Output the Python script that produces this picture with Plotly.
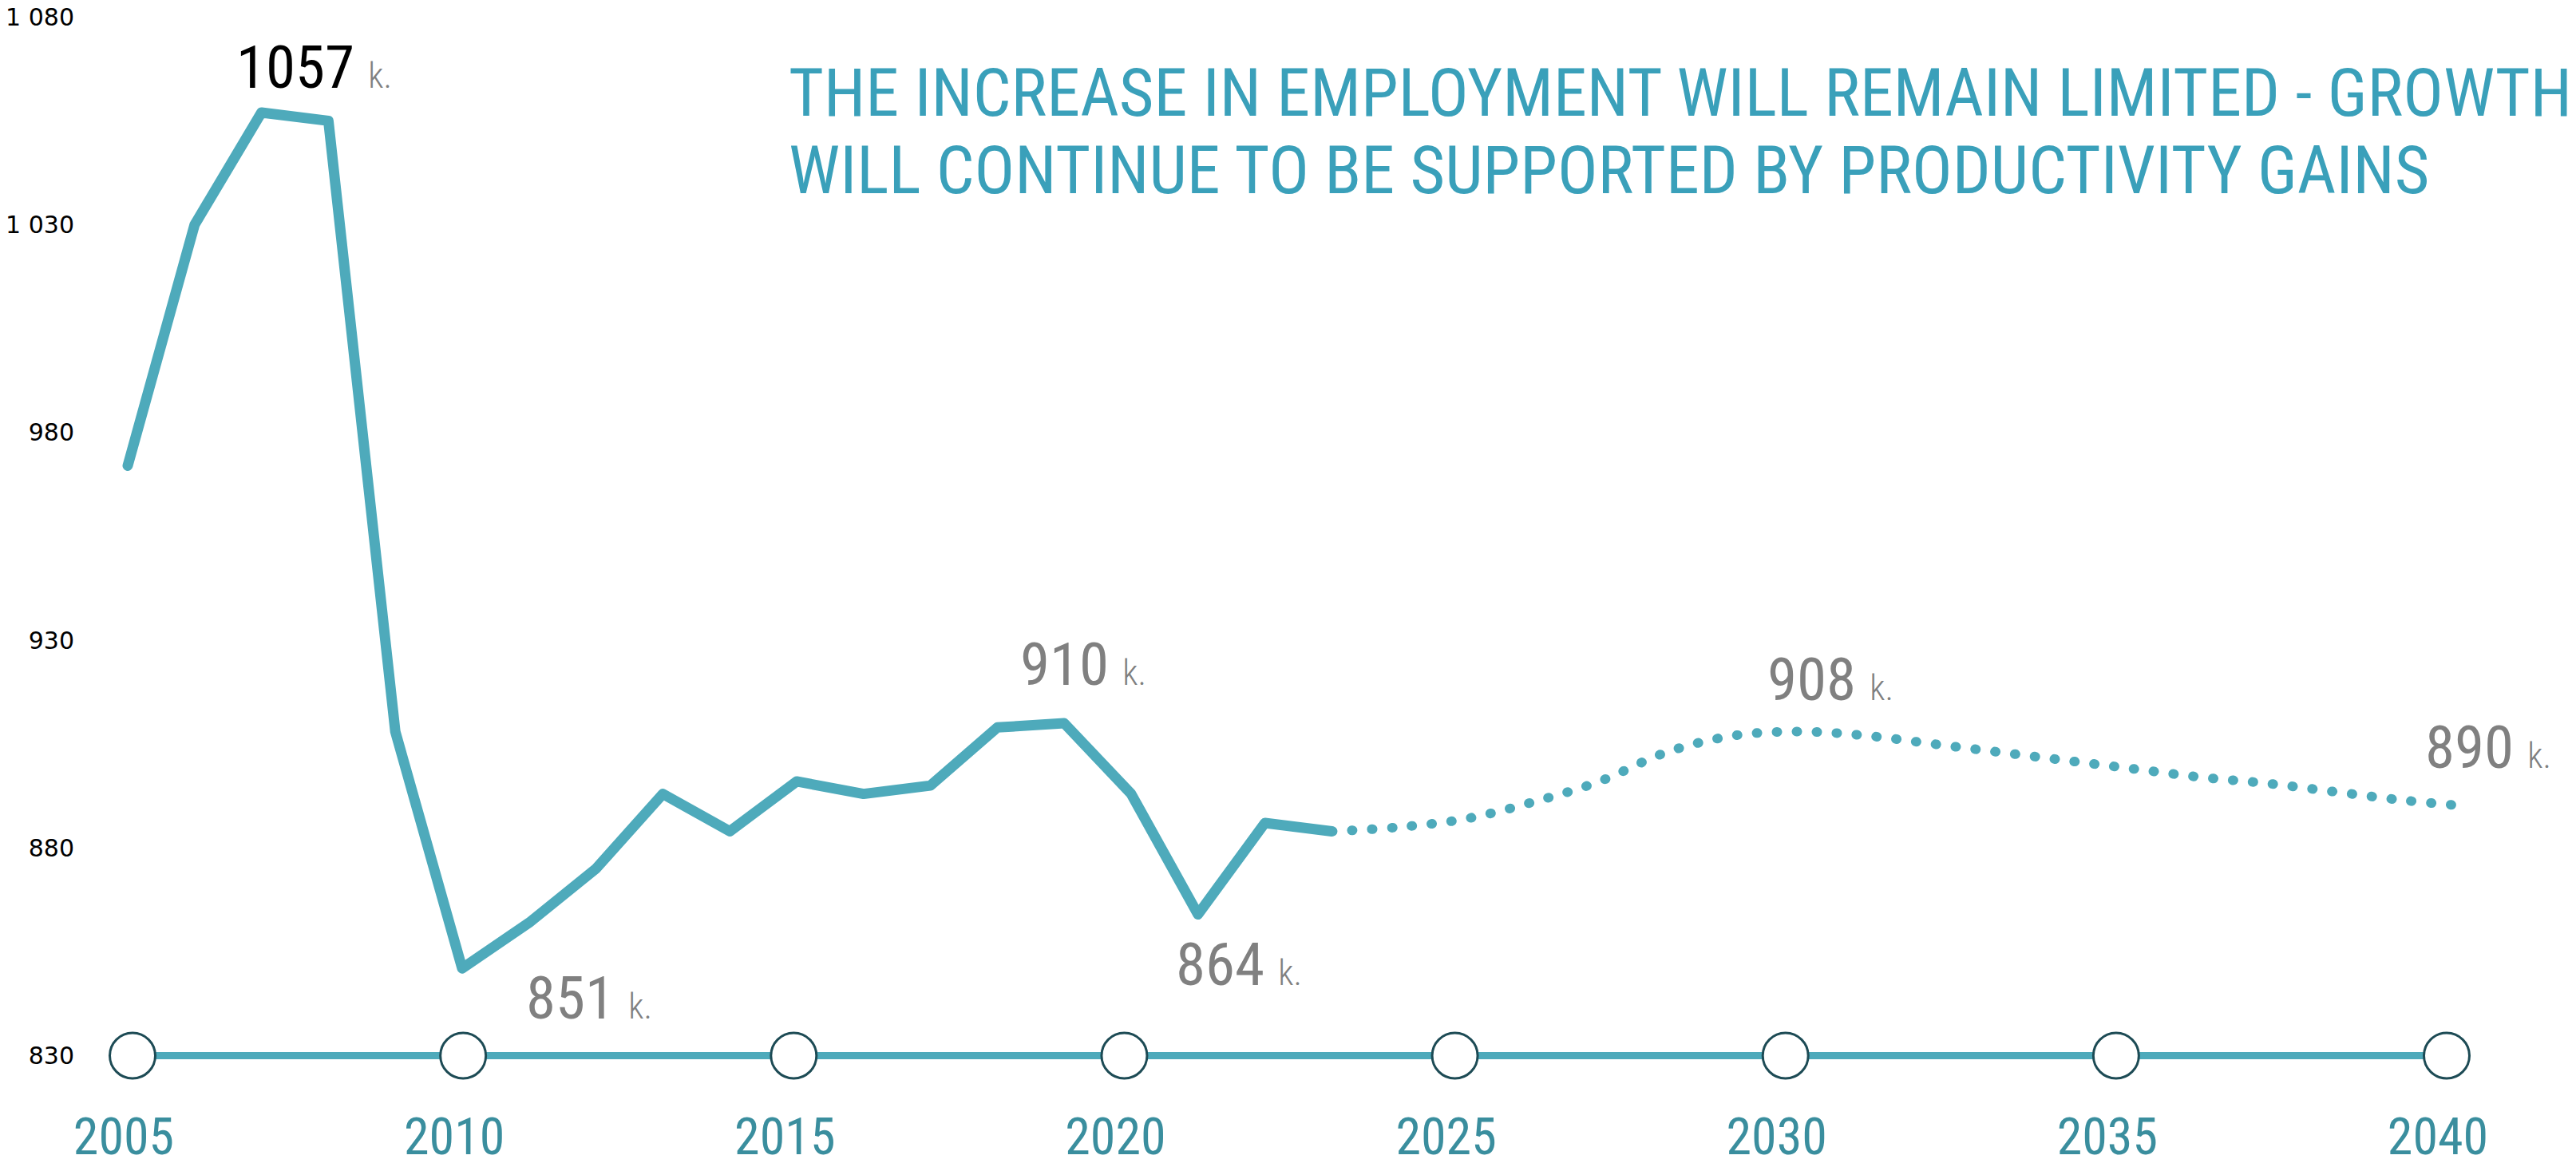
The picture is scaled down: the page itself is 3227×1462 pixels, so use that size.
import plotly.graph_objects as go

# ---------------- data ----------------
years = list(range(2005, 2024))
employment = [972, 1030, 1057, 1055, 908, 851, 862, 875, 893, 884,
              896, 893, 895, 909, 910, 893, 864, 886, 884]
proj_years = list(range(2023, 2041))
projection = [884, 885, 887, 891, 896, 903, 907, 908, 907, 905,
              903, 901, 899, 897, 895.5, 893.5, 891.5, 890]
axis_years = [2005, 2010, 2015, 2020, 2025, 2030, 2035, 2040]
axis_base = 830
y_ticks = [830, 880, 930, 980, 1030, 1080]
label_years = [2007, 2010, 2019, 2021, 2030, 2040]
label_values = [1057, 851, 910, 864, 908, 890]
title_lines = ["THE INCREASE IN EMPLOYMENT WILL REMAIN LIMITED - GROWTH",
               "WILL CONTINUE TO BE SUPPORTED BY PRODUCTIVITY GAINS"]

# ---------------- style ----------------
W, H = 3227, 1462
ML, MR, MT, MB = 100, 27, 0, 82
PW, PH = W - ML - MR, H - MT - MB
LINE = "#4eaabb"
TITLE_C = "#3aa0ba"
YEAR_C = "#3a8e9e"
GRAY = "#808080"
NARROW = "Roboto Condensed, DejaVu Sans Condensed, sans-serif"
NORMAL = "DejaVu Sans, Verdana, sans-serif"

fig = go.Figure()

# baseline axis with circles
fig.add_trace(go.Scatter(
    x=axis_years, y=[axis_base] * len(axis_years), xaxis="x2", yaxis="y",
    mode="lines+markers", cliponaxis=False, hoverinfo="skip",
    line=dict(color=LINE, width=9),
    marker=dict(size=57, color="white", line=dict(color="#1d4b55", width=3)),
))

# projection (dotted)
fig.add_trace(go.Scatter(
    x=proj_years, y=projection, mode="lines", hoverinfo="skip",
    line=dict(color=LINE, width=12, dash="1px,24px", shape="spline", smoothing=1),
))

# historical (solid)
fig.add_trace(go.Scatter(
    x=years, y=employment, mode="lines", hoverinfo="skip",
    line=dict(color=LINE, width=13),
))

# value labels
offsets = [(66, 57), (159, -37), (24, 74), (51, -62), (38, 66), (24, 74)]
annotations = []
for i, (yr, val) in enumerate(zip(label_years, label_values)):
    num_color = "black" if i == 0 else GRAY
    dx, dy = offsets[i]
    annotations.append(dict(
        x=yr, y=val, xref="x", yref="y", showarrow=False,
        xanchor="center", yanchor="middle", xshift=dx, yshift=dy,
        text=f"<span style='color:{num_color}'>{val}</span> "
             f"<span style='font-size:44px;font-weight:300;color:{GRAY}'>k.</span>",
        font=dict(family=NARROW, size=75, color=num_color),
    ))

# title lines
title_pos = [118, 216]
for line, py in zip(title_lines, title_pos):
    annotations.append(dict(
        x=(986 - ML) / PW, y=1 - (py - MT) / PH, xref="paper", yref="paper",
        xanchor="left", yanchor="middle", showarrow=False,
        text=line, font=dict(family=NARROW, size=84.3, color=TITLE_C),
    ))

fig.update_layout(
    width=W, height=H,
    margin=dict(l=ML, r=MR, t=MT, b=MB, pad=0),
    paper_bgcolor="white", plot_bgcolor="white",
    showlegend=False,
    separators=". ",
    xaxis=dict(range=[2004.284, 2041.277], visible=False, fixedrange=True),
    xaxis2=dict(range=[2004.203, 2041.63], overlaying="x", anchor="y", side="bottom",
                tickmode="array", tickvals=axis_years,
                tickfont=dict(family=NARROW, size=64, color=YEAR_C),
                showgrid=False, zeroline=False, showline=False, ticks="",
                ticklabelstandoff=18, ticklabelshift=-11),
    yaxis=dict(range=[822.22, 1084.08], tickmode="array", tickvals=y_ticks,
               tickformat=",d", tickfont=dict(family=NORMAL, size=30, color="black"),
               showgrid=False, zeroline=False, showline=False, ticks="",
               ticklabelstandoff=6, ticklabeloverflow="allow"),
    annotations=annotations,
)

post = """
document.body.style.margin='0';
var gd = document.getElementById('{plot_id}');
gd.querySelectorAll('path.js-line').forEach(function(p){
  p.style.strokeLinecap = 'round';
  p.style.strokeLinejoin = 'round';
});
"""
fig.write_html("out.html", post_script=post, config={"displayModeBar": False})
